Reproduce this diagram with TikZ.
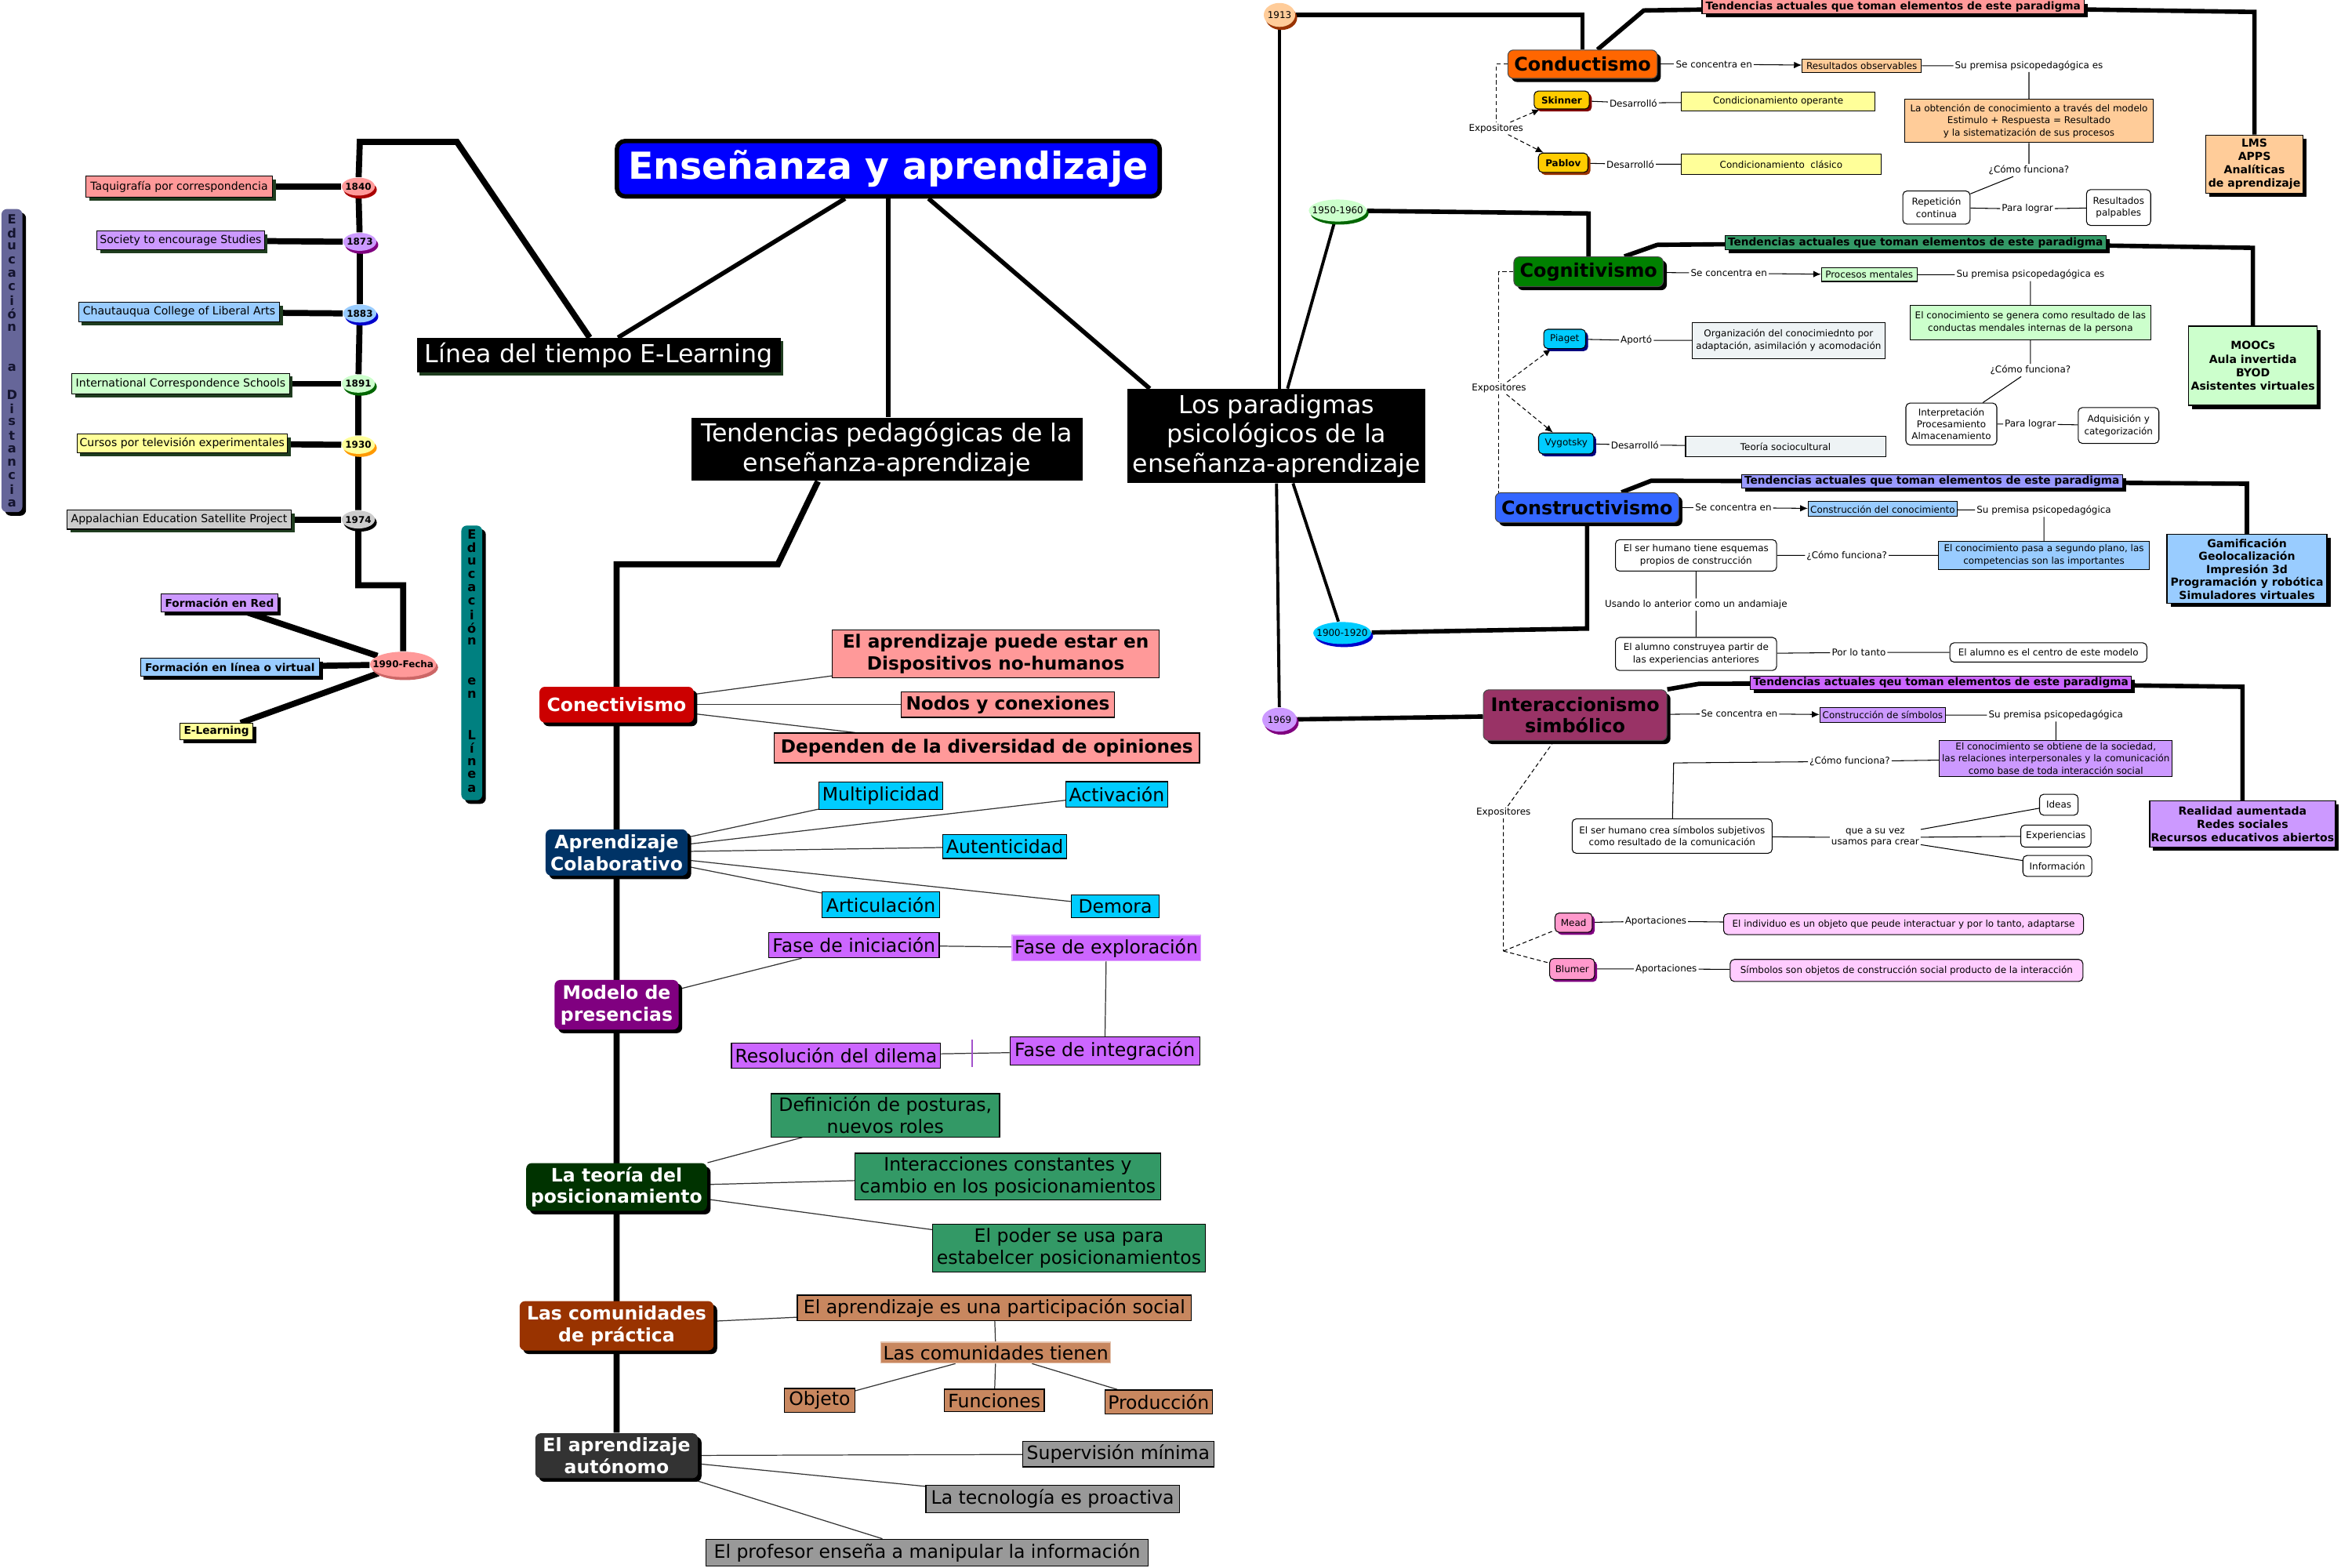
\documentclass[tikz,border=0pt]{standalone}
\usepackage{fontspec}
\setmainfont{DejaVu Sans}
\usetikzlibrary{arrows,arrows.meta,shapes.geometric,shadows}
\pgfdeclarelayer{background}
\pgfsetlayers{background,main}

\definecolor{cSlate}{HTML}{666699}
\definecolor{cTeal}{HTML}{008080}
\definecolor{cLetter}{HTML}{14142E}
\definecolor{cSalmon}{HTML}{FF9999}
\definecolor{cLilac}{HTML}{CC99FF}
\definecolor{cSky}{HTML}{99CCFF}
\definecolor{cMint}{HTML}{CCFFCC}
\definecolor{cLemon}{HTML}{FFFF99}
\definecolor{cSilver}{HTML}{CCCCCC}
\definecolor{cEvShadow}{HTML}{1F3D1F}
\definecolor{cDarkred}{HTML}{AA0000}
\definecolor{cPurple}{HTML}{800080}
\definecolor{cBlue}{HTML}{0000CC}
\definecolor{cGreen}{HTML}{006600}
\definecolor{cOrange}{HTML}{FF9900}
\definecolor{cRose}{HTML}{CC6666}
\definecolor{cTitle}{HTML}{0000FF}
\definecolor{cConect}{HTML}{CC0000}
\definecolor{cColab}{HTML}{003366}
\definecolor{cPresen}{HTML}{800080}
\definecolor{cPosic}{HTML}{003300}
\definecolor{cComun}{HTML}{993300}
\definecolor{cAuto}{HTML}{333333}
\definecolor{cCyan}{HTML}{00CCFF}
\definecolor{cFase}{HTML}{CC66FF}
\definecolor{cSea}{HTML}{339966}
\definecolor{cTan}{HTML}{C8875F}
\definecolor{cGray}{HTML}{999999}
\definecolor{cPeach}{HTML}{FFCC99}
\definecolor{cBrown}{HTML}{993300}
\definecolor{cOrangeR}{HTML}{FF6600}
\definecolor{cGold}{HTML}{FFCC00}
\definecolor{cMaroon}{HTML}{800000}
\definecolor{cCog}{HTML}{008000}
\definecolor{cCons}{HTML}{3366FF}
\definecolor{cPeri}{HTML}{9999FF}
\definecolor{cInter}{HTML}{993366}
\definecolor{cNavy}{HTML}{000080}
\definecolor{cIce}{HTML}{EEF3F5}
\definecolor{cPink}{HTML}{FF99CC}
\definecolor{cBlush}{HTML}{FFCCFF}
\definecolor{cLink}{HTML}{333333}

\tikzset{
  sz/.style 2 args={minimum width=#1pt, minimum height=#2pt},
  shd/.style={drop shadow={opacity=1, fill=#1, shadow xshift=1.3pt, shadow yshift=-1.3pt}},
  shd/.default=black,
  yr/.style 2 args={ellipse, inner xsep=-3pt, inner ysep=0pt, fill=#1,
    drop shadow={opacity=1, fill=#2, shadow xshift=0.7pt, shadow yshift=-1.1pt},
    font=\fontsize{3.4}{4}\selectfont\bfseries},
  event/.style={draw, line width=0.3pt, fill=#1, inner sep=0.4pt,
    font=\fontsize{4}{4.8}\selectfont,
    drop shadow={opacity=1, fill=cEvShadow, shadow xshift=1.2pt, shadow yshift=-1.2pt}},
  online/.style={draw, line width=0.3pt, fill=#1, inner sep=0.4pt,
    font=\fontsize{3.9}{4.6}\selectfont\bfseries,
    drop shadow={opacity=1, fill=black, shadow xshift=1.2pt, shadow yshift=-1.2pt}},
  vbar/.style={rounded corners=2pt, fill=#1, minimum width=7.6pt, inner sep=0pt, shd},
  vlet/.style={inner sep=0pt, text=cLetter, font=\fontsize{4.6}{5}\selectfont\bfseries},
  main/.style={rounded corners=3pt, draw=black, line width=1.6pt, fill=cTitle, text=white,
    font=\fontsize{13.5}{15}\selectfont\bfseries},
  topic/.style={fill=black, text=white, align=center, inner sep=0.5pt,
    font=\fontsize{9}{10.6}\selectfont},
  branch/.style={rounded corners=2pt, fill=#1, text=white, align=center, inner sep=0.5pt,
    font=\fontsize{6.7}{7.9}\selectfont\bfseries, shd},
  leaf/.style={draw, line width=0.35pt, fill=#1, align=center, inner sep=0.4pt,
    font=\fontsize{6.7}{7.9}\selectfont},
  bleaf/.style={leaf=#1, font=\fontsize{6.6}{7.9}\selectfont\bfseries},
  para/.style={rounded corners=2pt, draw=black!70, line width=0.3pt, fill=#1, align=center,
    inner sep=0.5pt, font=\fontsize{6.8}{7.8}\selectfont\bfseries, shd},
  trend/.style={draw, line width=0.3pt, fill=#1, inner sep=0.2pt,
    font=\fontsize{3.9}{4.4}\selectfont\bfseries, shd},
  result/.style={draw, line width=0.4pt, fill=#1, align=center, inner sep=0.5pt,
    font=\fontsize{4}{4.8}\selectfont\bfseries, shd},
  sbox/.style={draw, line width=0.3pt, fill=#1, align=center, inner sep=0.4pt,
    font=\fontsize{3.4}{4.4}\selectfont},
  rbox/.style={sbox=#1, rounded corners=1.5pt},
  rbox/.default=white,
  lbl/.style={inner sep=0.4pt, align=center, font=\fontsize{3.4}{4.2}\selectfont},
  who/.style 2 args={rounded corners=1.5pt, draw, line width=0.3pt, fill=#1, inner sep=0.4pt,
    font=\fontsize{3.4}{4}\selectfont,
    drop shadow={opacity=1, fill=#2, shadow xshift=0.9pt, shadow yshift=-0.9pt}},
  spine/.style={line width=2.2pt},
  trunk/.style={line width=1.6pt},
  stem/.style={line width=1.1pt},
  link/.style={line width=0.35pt, draw=cLink},
  fine/.style={line width=0.3pt},
  tip/.style={-{Latex[length=2.8pt,width=2.4pt]}},
  expo/.style={line width=0.3pt, dash pattern=on 1.5pt off 1pt}
}

\begin{document}
\begin{tikzpicture}[x=0.019044cm, y=-0.019044cm]
\useasboundingbox (0,0) rectangle (1568,1050);

\node[vbar=cSlate, minimum height=110pt] (edist) at (8,241.5) {};
\foreach \ch [count=\idx from 0] in {E,d,u,c,a,c,i,ó,n,,,a,,D,i,s,t,a,n,c,i,a}
  \node[vlet] (edist-\idx) at (8,147+9.05*\idx) {\ch};
\node[vbar=cTeal, minimum height=99.7pt] (eline) at (316,444) {};
\foreach \ch [count=\idx from 0] in {E,d,u,c,a,c,i,ó,n,,,e,n,,,L,í,n,e,a}
  \node[vlet, text=black] (eline-\idx) at (316,358+8.95*\idx) {\ch};

\node[yr={cSalmon}{cDarkred}, sz={12}{6.5}] (y1840) at (240,125) {1840};
\node[yr={cLilac}{cPurple}, sz={12}{6.5}] (y1873) at (241,162) {1873};
\node[yr={cSky}{cBlue}, sz={12}{6.5}] (y1883) at (241,210) {1883};
\node[yr={cMint}{cGreen}, sz={12}{6.5}] (y1891) at (240,257) {1891};
\node[yr={cLemon}{cOrange}, sz={12}{6.5}] (y1930) at (240,298) {1930};
\node[yr={cSilver}{black}, sz={12}{6.5}] (y1974) at (240,348) {1974};
\node[yr={cSalmon}{cRose}, sz={24}{9.2}] (y1990) at (270,445) {1990-Fecha};

\node[event=cSalmon, sz={67.7}{7.6}] (ev1840) at (120,125) {Taquigrafía por correspondencia};
\node[event=cLilac, sz={60.7}{7}] (ev1873) at (121,161) {Society to encourage Studies};
\node[event=cSky, sz={73}{7}] (ev1883) at (120,209) {Chautauqua College of Liberal Arts};
\node[event=cMint, sz={79}{7.6}] (ev1891) at (121,257) {International Correspondence Schools};
\node[event=cLemon, sz={76.4}{7}] (ev1930) at (122,297) {Cursos por televisión experimentales};
\node[event=cSilver, sz={81.3}{7}] (ev1974) at (120,348) {Appalachian Education Satellite Project};

\node[online=cLilac, sz={42.3}{6.5}] (redf) at (147,404) {Formación en Red};
\node[online=cSky, sz={65}{6.5}] (virt) at (154,447) {Formación en línea o virtual};
\node[online=cLemon, sz={26.5}{6}] (elearn) at (145,490) {E-Learning};

\coordinate (tlA) at (306,95);
\coordinate (tlB) at (241,95);
\coordinate (tlC) at (240,392);
\coordinate (tlD) at (270,392);

\node[main, sz={197}{20}] (title) at (595,113) {Enseñanza y aprendizaje};
\node[topic, sz={132}{12.5}, drop shadow={opacity=1, fill=cEvShadow, shadow xshift=1pt, shadow yshift=-1pt}] (linea) at (401,238) {Línea del tiempo E-Learning};
\node[topic, sz={142}{22.8}] (tped) at (594,301) {Tendencias pedagógicas de la\\enseñanza-aprendizaje};
\node[topic, sz={108}{34}] (paradigm) at (855,292) {Los paradigmas\\psicológicos de la\\enseñanza-aprendizaje};

\coordinate (pedA) at (521,378);
\coordinate (pedB) at (413,378);

\node[branch=cConect, sz={56}{13}] (conect) at (413,472) {Conectivismo};
\node[branch=cColab, sz={51.5}{16.8}] (colab) at (413,571) {Aprendizaje\\Colaborativo};
\node[branch=cPresen, sz={45}{18}] (presen) at (413,673) {Modelo de\\presencias};
\node[branch=cPosic, sz={65.6}{17.3}] (posic) at (413,795) {La teoría del\\posicionamiento};
\node[branch=cComun, sz={70.4}{17.9}] (comun) at (413,888) {Las comunidades\\de práctica};
\node[branch=cAuto, sz={59}{16.3}] (auto) at (413,975) {El aprendizaje\\autónomo};

\node[bleaf=cSalmon, sz={118.7}{17.3}] (con1) at (667,438) {El aprendizaje puede estar en\\Dispositivos no-humanos};
\node[bleaf=cSalmon, sz={77.5}{9.2}] (con2) at (675,472) {Nodos y conexiones};
\node[bleaf=cSalmon, sz={154.4}{10.8}] (con3) at (661,501) {Dependen de la diversidad de opiniones};

\node[leaf=cCyan, sz={45}{9.8}] (multi) at (590,533) {Multiplicidad};
\node[leaf=cCyan, sz={36.8}{9.2}] (activ) at (748,532) {Activación};
\node[leaf=cCyan, sz={45}{8.7}] (auten) at (673,567) {Autenticidad};
\node[leaf=cCyan, sz={42.8}{9.2}] (artic) at (590,606) {Articulación};
\node[leaf=cCyan, sz={32}{8.1}] (demora) at (747,607) {Demora};

\node[leaf=cFase, sz={61.8}{9.2}] (fini) at (572,633) {Fase de iniciación};
\node[leaf=cFase, draw=cFase!60, sz={68.3}{9.2}] (fexp) at (741,635) {Fase de exploración};
\node[leaf=cFase, sz={68.8}{10.3}] (fint) at (740,704) {Fase de integración};
\node[leaf=cFase, sz={75.9}{9.2}] (resol) at (560,707) {Resolución del dilema};

\node[leaf=cSea, sz={82.9}{15.7}] (pos1) at (593,747) {Definición de posturas,\\nuevos roles};
\node[leaf=cSea, sz={111}{16.8}] (pos2) at (675,788) {Interacciones constantes y\\cambio en los posicionamientos};
\node[leaf=cSea, sz={99}{17.3}] (pos3) at (716,836) {El poder se usa para\\estabelcer posicionamientos};

\node[leaf=cTan, sz={143}{9.2}] (part) at (666,876) {El aprendizaje es una participación social};
\node[leaf=cTan, draw=cTan!50, sz={83.4}{7.6}] (tienen) at (667,906) {Las comunidades tienen};
\node[leaf=cTan, sz={25.5}{8.7}] (objeto) at (549,938) {Objeto};
\node[leaf=cTan, sz={36.3}{8.1}] (funcs) at (666,938) {Funciones};
\node[leaf=cTan, sz={39}{8.7}] (produc) at (776,939) {Producción};

\node[leaf=cGray, sz={69.4}{9.2}] (superv) at (749,974) {Supervisión mínima};
\node[leaf=cGray, sz={92}{9.8}] (tecno) at (705,1004) {La tecnología es proactiva};
\node[leaf=cGray, sz={160.4}{9.8}] (profe) at (621,1040) {El profesor enseña a manipular la información};

\node[yr={cPeach}{cBrown}, sz={11.4}{8.7}, font=\fontsize{3.4}{4}\selectfont] (y1913) at (857,10) {1913};
\node[yr={cMint}{cGreen}, sz={21}{8}, font=\fontsize{3.4}{4}\selectfont] (y1950) at (896,141) {1950-1960};
\node[yr={cCyan}{cBlue}, sz={21}{8}, font=\fontsize{3.4}{4}\selectfont] (y1900) at (899,424) {1900-1920};
\node[yr={cLilac}{cPurple}, sz={12.5}{8.7}, font=\fontsize{3.4}{4}\selectfont] (y1969) at (857,482) {1969};

\coordinate (condA) at (1060,10);
\coordinate (cogA) at (1064,143);
\coordinate (consA) at (1063,421);

\node[para=cOrangeR, sz={54.2}{10.3}] (cond) at (1060,43) {Conductismo};
\node[para=cCog, sz={54.2}{10.8}] (cog) at (1064,182) {Cognitivismo};
\node[para=cCons, sz={66.6}{10.8}] (cons) at (1063,340) {Constructivismo};
\node[para=cInter, sz={66.6}{18.4}] (inter) at (1055,479) {Interaccionismo\\simbólico};

\coordinate (condB) at (1101,7);
\coordinate (condC) at (1510,8);
\coordinate (cogB) at (1110,164);
\coordinate (cogC) at (1509,166);
\coordinate (consB) at (1106,322);
\coordinate (consC) at (1505,324);
\coordinate (interB) at (1138,458);
\coordinate (interC) at (1502,460);

\node[trend=cSalmon, sz={138.7}{4.9}] (ctrend) at (1268,4.5) {Tendencias actuales que toman elementos de este paradigma};
\node[trend=cSea, sz={138.2}{4.9}] (gtrend) at (1283,162.5) {Tendencias actuales que toman elementos de este paradigma};
\node[trend=cPeri, sz={138.2}{4.9}] (btrend) at (1294,322.5) {Tendencias actuales que toman elementos de este paradigma};
\node[trend=cFase, sz={138.2}{4.9}] (vtrend) at (1300,457.5) {Tendencias actuales qeu toman elementos de este paradigma};

\node[result=cPeach, sz={35.2}{21.1}] (lms) at (1510,110) {LMS\\APPS\\Analíticas\\de aprendizaje};
\node[result=cMint, sz={46.6}{28.7}, font=\fontsize{4}{4.9}\selectfont\bfseries] (moocs) at (1509,245) {MOOCs\\Aula invertida\\BYOD\\Asistentes virtuales};
\node[result=cSky, sz={58}{25}, font=\fontsize{4}{4.7}\selectfont\bfseries] (gami) at (1505,381) {Gamificación\\Geolocalización\\Impresión 3d\\Programación y robótica\\Simuladores virtuales};
\node[result=cLilac, sz={67.2}{16.8}] (real) at (1502,552) {Realidad aumentada\\Redes sociales\\Recursos educativos abiertos};

\node[lbl] (cond-sc) at (1148,43) {Se concentra en};
\node[sbox=cPeach, sz={43.3}{4.9}] (cond-res) at (1247,44) {Resultados observables};
\node[lbl] (cond-sp) at (1359,44) {Su premisa psicopedagógica es};
\node[sbox=cPeach, sz={90}{15.7}] (cond-prem) at (1359,81) {La obtención de conocimiento a través del modelo\\Estimulo + Respuesta = Resultado\\y la sistematización de sus procesos};
\node[lbl] (cond-cf) at (1359,114) {¿Cómo funciona?};
\node[rbox, sz={24.4}{12}] (cond-rep) at (1297,139) {Repetición\\continua};
\node[lbl] (cond-pl) at (1358,140) {Para lograr};
\node[rbox, sz={23.3}{13}] (cond-pal) at (1419,139) {Resultados\\palpables};
\node[lbl] (cond-exp) at (1002,86) {Expositores};
\coordinate (condD) at (1002,43);
\node[who={cGold}{cMaroon}, sz={20}{6.5}, font=\fontsize{3.4}{4}\selectfont\bfseries] (skinner) at (1046,67) {Skinner};
\node[lbl] (sk-des) at (1094,69) {Desarrolló};
\node[sbox=cLemon, sz={70.4}{7}] (sk-op) at (1191,68) {Condicionamiento operante};
\node[who={cGold}{cBrown}, sz={18}{7}, font=\fontsize{3.4}{4}\selectfont\bfseries] (pablov) at (1047,109) {Pablov};
\node[lbl] (pb-des) at (1092,110) {Desarrolló};
\node[sbox=cLemon, sz={72.6}{7.6}] (pb-cl) at (1193,110) {Condicionamiento\ \ clásico};

\node[lbl] (cog-sc) at (1158,183) {Se concentra en};
\node[sbox=cMint, sz={34.7}{4.9}] (cog-pm) at (1252,184) {Procesos mentales};
\node[lbl] (cog-sp) at (1360,184) {Su premisa psicopedagógica es};
\node[sbox=cMint, sz={87.2}{12.5}] (cog-prem) at (1360,216) {El conocimiento se genera como resultado de las\\conductas mendales internas de la persona};
\node[lbl] (cog-cf) at (1360,248) {¿Cómo funciona?};
\node[rbox, sz={33}{15.2}] (cog-int) at (1307,284) {Interpretación\\Procesamiento\\Almacenamiento};
\node[lbl] (cog-pl) at (1360,284) {Para lograr};
\node[rbox, sz={29.3}{13}] (cog-adq) at (1419,285) {Adquisición y\\categorización};
\node[lbl] (cog-exp) at (1004,260) {Expositores};
\coordinate (cogD) at (1004,182);
\coordinate (cogE) at (1004,331);
\node[who={cCyan}{cNavy}, sz={15.2}{7}] (piaget) at (1048,227) {Piaget};
\node[lbl] (pi-ap) at (1096,228) {Aportó};
\node[sbox=cIce, sz={70}{13}] (pi-org) at (1198,228) {Organización del conocimiednto por\\adaptación, asimilación y acomodación};
\node[who={cCyan}{cNavy}, sz={20}{7.6}] (vygotsky) at (1049,297) {Vygotsky};
\node[lbl] (vy-des) at (1095,298) {Desarrolló};
\node[sbox=cIce, sz={72.6}{7.6}] (vy-teo) at (1196,299) {Teoría sociocultural};

\node[lbl] (cons-sc) at (1161,340) {Se concentra en};
\node[sbox=cSky, sz={54}{5.4}] (cons-cc) at (1261,341) {Construcción del conocimiento};
\node[lbl] (cons-sp) at (1369,342) {Su premisa psicopedagógica};
\node[sbox=cSky, sz={76.4}{10.3}] (cons-prem) at (1369,372) {El conocimiento pasa a segundo plano, las\\competencias son las importantes};
\node[lbl] (cons-cf) at (1237,372) {¿Cómo funciona?};
\node[rbox, sz={58.5}{11.4}] (cons-esq) at (1136,372) {El ser humano tiene esquemas\\propios de construcción};
\node[lbl] (cons-and) at (1136,405) {Usando lo anterior como un andamiaje};
\node[rbox, sz={58.5}{12}] (cons-alu) at (1136,438) {El alumno construyea partir de\\las experiencias anteriores};
\node[lbl] (cons-plt) at (1245,437) {Por lo tanto};
\node[rbox, sz={71.5}{7}] (cons-cen) at (1372,437) {El alumno es el centro de este modelo};

\node[lbl] (int-sc) at (1165,478) {Se concentra en};
\node[sbox=cLilac, sz={45.5}{5.4}] (int-cs) at (1261,479) {Construcción de símbolos};
\node[lbl] (int-sp) at (1377,479) {Su premisa psicopedagógica};
\node[sbox=cLilac, sz={84.5}{13}] (int-prem) at (1377,508) {El conocimiento se obtiene de la sociedad,\\las relaciones interpersonales y la comunicación\\como base de toda interacción social};
\node[lbl] (int-cf) at (1239,510) {¿Cómo funciona?};
\coordinate (intA) at (1121,511);
\node[rbox, sz={72.6}{12.5}] (int-ser) at (1120,560) {El ser humano crea símbolos subjetivos\\como resultado de la comunicación};
\node[lbl] (int-que) at (1256,561) {que a su vez\\usamos para crear};
\node[rbox, sz={14}{7.6}] (int-ideas) at (1379,539) {Ideas};
\node[rbox, sz={25.5}{8}] (int-exper) at (1377,560) {Experiencias};
\node[rbox, sz={25}{7.6}] (int-info) at (1378,580) {Información};
\node[lbl] (int-exp) at (1007,544) {Expositores};
\coordinate (interD) at (1007,637);
\node[who={cPink}{cPurple}, sz={13.5}{7}] (mead) at (1054,618) {Mead};
\node[lbl] (mead-ap) at (1109,617) {Aportaciones};
\node[rbox=cBlush, sz={130.6}{7.6}] (mead-txt) at (1275,619) {El individuo es un objeto que peude interactuar y por lo tanto, adaptarse};
\node[who={cPink}{cPurple}, sz={16.3}{7.6}] (blumer) at (1053,649) {Blumer};
\node[lbl] (bl-ap) at (1116,649) {Aportaciones};
\node[rbox=cBlush, sz={128}{8}] (bl-txt) at (1277,650) {Símbolos son objetos de construcción social producto de la interacción};

\begin{pgfonlayer}{background}
\draw[trunk] ([xshift=-15.7pt]title.south) -- ([xshift=7pt]linea.north);
\draw[trunk] (title.south) -- (title.south |- tped.north);
\draw[trunk] ([xshift=14.6pt]title.south) -- ([xshift=-46pt]paradigm.north);

\draw[spine] ([xshift=-3.3pt]linea.north) -- (tlA) -- (tlB) -- (y1840);
\draw[spine] (y1840) -- (y1873) -- (y1883) -- (y1891) -- (y1930) -- (y1974) -- (tlC) -- (tlD) -- (y1990);
\foreach \e in {1840,1873,1883,1891,1930,1974}
  \draw[spine] (ev\e) -- (y\e);
\foreach \o in {redf,virt,elearn}
  \draw[spine] (\o) -- (y1990);

\draw[spine] ([xshift=-25pt]tped.south) -- (pedA) -- (pedB) -- (auto);
\foreach \n in {con1,con2,con3}
  \draw[link] (conect) -- (\n);
\foreach \n in {multi,activ,auten,artic,demora}
  \draw[link] (colab) -- (\n);
\draw[link] (presen) -- (fini) -- (fexp) -- (fint) -- (resol);
\path (fint) -- (resol) coordinate[pos=0.55] (tick);
\draw[line width=0.6pt, draw=cFase!80!black] ([yshift=4.9pt]tick) -- ([yshift=-4.9pt]tick);
\foreach \n in {pos1,pos2,pos3}
  \draw[link] (posic) -- (\n);
\draw[link] (comun) -- (part) -- (tienen);
\foreach \n in {objeto,funcs,produc}
  \draw[link] (tienen) -- (\n);
\foreach \n in {superv,tecno,profe}
  \draw[link] (auto) -- (\n);

\draw[stem] (y1913) -- (y1913 |- paradigm.north);
\draw[stem] ([xshift=4pt]paradigm.north) -- (y1950);
\draw[stem] ([xshift=6pt]paradigm.south) -- (y1900);
\draw[stem] (paradigm.south) -- (y1969);

\draw[trunk] (y1913) -- (condA) -- (cond);
\draw[trunk] (y1950) -- (cogA) -- (cog);
\draw[trunk] (y1900) -- (consA) -- (cons);
\draw[trunk] (y1969) -- (inter);

\draw[trunk] ([xshift=5.4pt]cond.north) -- (condB) -- (ctrend) -- (condC) -- (lms);
\draw[trunk] ([xshift=13pt]cog.north) -- (cogB) -- (gtrend) -- (cogC) -- (moocs);
\draw[trunk] ([xshift=12.5pt]cons.north) -- (consB) -- (btrend) -- (consC) -- (gami);
\draw[trunk] (inter.north east) -- (interB) -- (vtrend) -- (interC) -- (real);

\draw[fine] (cond) -- (cond-sc);
\draw[fine,tip] (cond-sc) -- (cond-res);
\draw[fine] (cond-res) -- (cond-sp) -- (cond-prem) -- (cond-cf) -- (cond-rep) -- (cond-pl) -- (cond-pal);
\draw[expo] (cond) -- (condD) -- (cond-exp);
\draw[expo,tip] (cond-exp) -- (skinner);
\draw[expo,tip] (cond-exp) -- (pablov);
\draw[fine] (skinner) -- (sk-des) -- (sk-op);
\draw[fine] (pablov) -- (pb-des) -- (pb-cl);

\draw[fine] (cog) -- (cog-sc);
\draw[fine,tip] (cog-sc) -- (cog-pm);
\draw[fine] (cog-pm) -- (cog-sp) -- (cog-prem) -- (cog-cf) -- (cog-int) -- (cog-pl) -- (cog-adq);
\draw[expo] (cog) -- (cogD) -- (cog-exp) -- (cogE);
\draw[expo,tip] (cog-exp) -- (piaget);
\draw[expo,tip] (cog-exp) -- (vygotsky);
\draw[fine] (piaget) -- (pi-ap) -- (pi-org);
\draw[fine] (vygotsky) -- (vy-des) -- (vy-teo);

\draw[fine] (cons) -- (cons-sc);
\draw[fine,tip] (cons-sc) -- (cons-cc);
\draw[fine] (cons-cc) -- (cons-sp) -- (cons-prem) -- (cons-cf) -- (cons-esq) -- (cons-and) -- (cons-alu) -- (cons-plt) -- (cons-cen);

\draw[fine] (inter) -- (int-sc);
\draw[fine,tip] (int-sc) -- (int-cs);
\draw[fine] (int-cs) -- (int-sp) -- (int-prem) -- (int-cf) -- (intA) -- (int-ser);
\draw[fine] (int-ser) -- (int-que);
\foreach \n in {ideas,exper,info}
  \draw[fine] (int-que) -- (int-\n);
\draw[expo] ([xshift=-7.6pt]inter.south) -- (int-exp) -- (interD);
\draw[expo] (interD) -- (mead);
\draw[expo] (interD) -- (blumer);
\draw[fine] (mead) -- (mead-ap) -- (mead-txt);
\draw[fine] (blumer) -- (bl-ap) -- (bl-txt);
\end{pgfonlayer}
\end{tikzpicture}
\end{document}
